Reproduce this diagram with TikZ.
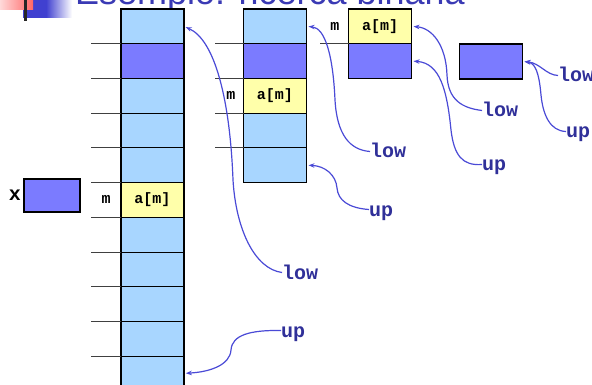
\documentclass[tikz,border=0pt]{standalone}
\usepackage{fontspec}
\setmainfont{Liberation Sans}
\setmonofont{Liberation Mono}
\usetikzlibrary{arrows.meta,positioning}
\definecolor{cellblue}{HTML}{A8D6FF}
\definecolor{keyblue}{HTML}{7B7BFF}
\definecolor{hitcell}{HTML}{FFFFAA}
\definecolor{wireblue}{HTML}{4A4AD6}
\definecolor{ptrtext}{HTML}{303099}
\definecolor{titleblue}{HTML}{3A3AB4}
\definecolor{logoblue}{HTML}{4040D0}
\begin{document}
\begin{tikzpicture}[x=1pt,y=-1pt,
    cell/.style={draw=black, line width=0.7pt, minimum width=63pt, minimum height=34.7pt, inner sep=0pt, outer sep=0pt},
    cellfont/.style={font=\ttfamily\bfseries\fontsize{15}{15}\selectfont, inner sep=0pt},
    frame/.style={draw=black, line width=1.6pt},
    tick/.style={draw=black!75, line width=0.8pt},
    ptr/.style={font=\ttfamily\bfseries\fontsize{20}{20}\selectfont, text=ptrtext, inner sep=0pt, text height=13pt, text depth=0pt, anchor=base west},
    wire/.style={draw=wireblue, line width=1.2pt, -{Stealth[length=6pt,width=4.5pt]}, shorten >=2pt}]
    \useasboundingbox (0,0) rectangle (592,385);
    % logo and title (cut at the top)
    \fill[logoblue] (23,0) rectangle (46,18);
    \shade[left color=logoblue, right color=white] (46,0) rectangle (72,18);
    \shade[left color=red!15, right color=red!60] (0,0) rectangle (33,10);
    \fill[black!85] (24,0) rectangle (27,21);
    \node[anchor=base west, inner sep=0pt, text=titleblue, font=\fontsize{36}{36}\selectfont] (title) at (75,5) {Esempio: ricerca binaria};
    % whole array
    \foreach \c [count=\i from 0] in {cellblue,keyblue,cellblue,cellblue,cellblue,hitcell,cellblue,cellblue,cellblue,cellblue,cellblue}
        \node[cell, fill=\c] (a\i) at (152.3,{26.35+34.7*\i}) {};
    \draw[frame] (a0.north west) rectangle (a10.south east);
    \foreach \i in {1,...,10} \draw[tick] (a\i.north west) -- ++(-30,0);
    \node[cellfont] (amA) at (a5) {a[m]};
    \node[cellfont, left=10pt of a5] (mA) {m};
    % x
    \node[cell, frame, fill=keyblue, minimum width=56pt, minimum height=33pt] (xbox) at (52,195.5) {};
    \node[cellfont, font=\ttfamily\bfseries\fontsize{20}{20}\selectfont, left=3pt of xbox] (xlab) {x};
    % second step
    \foreach \c [count=\i from 0] in {cellblue,keyblue,hitcell,cellblue,cellblue}
        \node[cell, fill=\c] (b\i) at (275,{26.35+34.7*\i}) {};
    \draw[frame] (b0.north west) rectangle (b4.south east);
    \foreach \i in {1,...,4} \draw[tick] (b\i.north west) -- ++(-29,0);
    \node[cellfont] (amB) at (b2) {a[m]};
    \node[cellfont, left=8pt of b2] (mB) {m};
    % third step
    \foreach \c [count=\i from 0] in {hitcell,keyblue}
        \node[cell, fill=\c] (c\i) at (380,{26.35+34.7*\i}) {};
    \draw[frame] (c0.north west) rectangle (c1.south east);
    \draw[tick] (c1.north west) -- ++(-29,0);
    \node[cellfont] (amC) at (c0) {a[m]};
    \node[cellfont, left=9pt of c0] (mC) {m};
    % last step
    \node[cell, frame, fill=keyblue] (s) at (491,61.4) {};
    % low / up
    \node[ptr] (lowA) at (282,279) {low};
    \node[ptr] (upA) at (281,337) {up};
    \node[ptr] (lowB) at (370,158) {low};
    \node[ptr] (upB) at (369,216) {up};
    \node[ptr] (lowC) at (482,117) {low};
    \node[ptr] (upC) at (482,171) {up};
    \node[ptr] (lowS) at (558,82) {low};
    \node[ptr] (upS) at (566,138) {up};
    \draw[wire] (lowA.west) .. controls (255,269) and (236,230) .. (233,180) .. controls (230,100) and (215,40) .. (a0.east);
    \draw[wire] (upA.west) .. controls (250,330) and (232,335) .. (231,350) .. controls (230,365) and (210,372) .. (a10.east);
    \draw[wire] (lowB.west) .. controls (350,150) and (337,135) .. (335,100) .. controls (333,55) and (325,28) .. (b0.east);
    \draw[wire] (upB.west) .. controls (348,208) and (338,200) .. (337,188) .. controls (336,175) and (325,166) .. (b4.east);
    \draw[wire] (lowC.west) .. controls (462,108) and (448,100) .. (447,75) .. controls (446,45) and (432,28) .. (c0.east);
    \draw[wire] (upC.west) .. controls (462,166) and (454,155) .. (451,130) .. controls (447,90) and (440,63) .. (c1.east);
    \draw[wire] (lowS.west) .. controls (546,75) and (540,63) .. (s.east);
    \draw[wire] (upS.west) .. controls (550,131) and (543,115) .. (541,95) .. controls (539,72) and (535,63) .. (s.east);
\end{tikzpicture}
\end{document}
